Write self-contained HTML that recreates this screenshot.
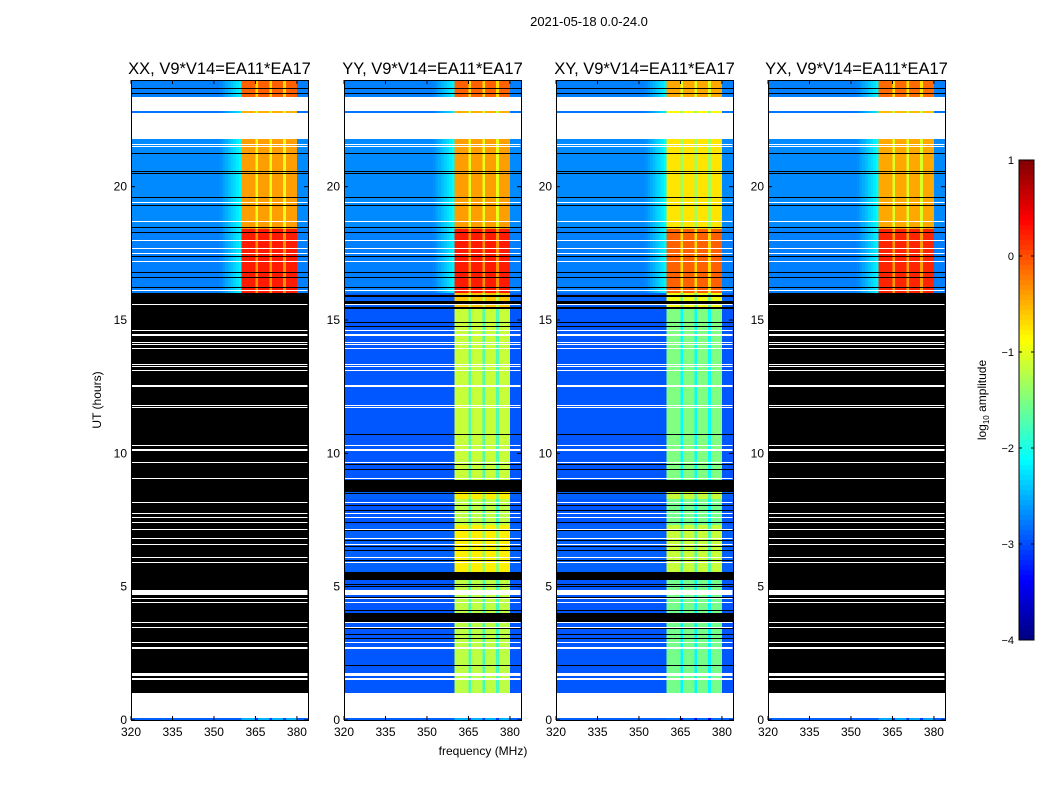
<!DOCTYPE html>
<html><head><meta charset="utf-8">
<style>
html,body{margin:0;padding:0;background:#fff;}
svg{display:block;font-family:"Liberation Sans",sans-serif;}
</style></head>
<body>
<svg id="fig" width="1050" height="800" viewBox="0 0 1050 800" xmlns="http://www.w3.org/2000/svg">
<rect width="1050" height="800" fill="#fff"/>
<text x="589" y="26" font-size="13" text-anchor="middle">2021-05-18 0.0-24.0</text>
<text x="483" y="755" font-size="12" text-anchor="middle">frequency (MHz)</text>
<text x="101" y="400" font-size="12" text-anchor="middle" transform="rotate(-90 101 400)">UT (hours)</text>
<g id="panels"></g>
<g id="cbar"></g>
</svg>
<script>
// ---- data ----
const panelTitles = ["XX, V9*V14=EA11*EA17","YY, V9*V14=EA11*EA17","XY, V9*V14=EA11*EA17","YX, V9*V14=EA11*EA17"];
const segStart = [0, 0.06, 1.0, 5.5, 7.3, 8.3, 9.0, 15.5, 16.0, 18.4, 21.8, 22.75, 22.82, 23.35];
const segEnd   = [0.06, 1.0, 5.5, 7.3, 8.3, 9.0, 15.5, 16.0, 18.4, 21.8, 22.75, 22.82, 23.35, 24];
const segBg    = [-2.9, null, -2.95, -2.9, -2.95, -2.9, -2.95, -2.9, -2.75, -2.7, null, -2.8, null, -2.75];
const segBand  = [-2.5, null, -1.2, -0.8, -1.2, -0.8, -1.15, -0.6, 0.25, -0.4, null, -0.5, null, -0.1];
const segFlaggedAuto = [0, 0, 1, 1, 1, 1, 1, 1, 0, 0, 0, 0, 0, 0]; // flagged in XX / YX
const panelFlagged = [true, false, false, true];
const panelBandOffset = [0, 0, -0.35, -0.05];
const whiteLines = [15.58,14.6,14.43,14.17,14.1,13.95,13.35,13.24,13.09,12.56,12.5,11.8,11.73,10.3,10.12,9.67,9.07,8.14,7.76,7.6,7.42,7.16,6.82,6.6,6.11,5.89,4.78,4.57,4.39,3.67,3.48,2.92,2.7,1.69,1.53,21.6,21.5,19.4,18.7,17.97,17.7,17.5,17.2,16.1];
const whiteWidths = [1,1,2,1,1,1,1,1,1,1,1,1,1,1,2,1,1,1,1,1,1,1,1,1,1,1,5,1,1,1,1,1,2,3,2,1,1,1,1,1,1,1,1,1];
const blackLines = [21.27,20.6,20.5,19.6,19.3,18.5,18.3,17.4,16.8,16.6,16.25,23.7,23.5];
const blackLinesMid = [15.9,15.65,15.45,14.9,14.75,10.7,9.6,9.4,8.77,8.5,8.06,7.87,7.42,7.12,6.75,6.5,6.37,6.0,5.4,5.1,5.0,4.6,4.1,3.85,3.45,3.2,3.05,2.06];
const blackWidthsMid = [2,3,2,1,1,1,1,1,12,1,1,1,1,1,1,1,1,1,8,1,1,1,1,9,1,1,1,1];
const freqBins = [];
for (let f = 320; f < 384; f += 1) freqBins.push(f);
const bandLo = 360.5, bandHi = 380.4;
const dividers = [365.5, 370.5, 375.5];
const cbTicks = [1, 0, -1, -2, -3, -4];
const xTicks = [320, 335, 350, 365, 380];
const yTicks = [0, 5, 10, 15, 20];

// ---- helpers ----
const NS = "http://www.w3.org/2000/svg";
const panelX = [131, 344, 556, 768], PW = 177, PT = 80, PH = 640;
const fMin = 320, fMax = 384, tMin = 0, tMax = 24, vMin = -4, vMax = 1;
function xs(p, f) { return panelX[p] + (f - fMin) / (fMax - fMin) * PW; }
function ys(t) { return PT + PH - (t - tMin) / (tMax - tMin) * PH; }
function jet(v) {
  let x = Math.max(0, Math.min(1, (v - vMin) / (vMax - vMin)));
  const c = t => Math.max(0, Math.min(1, t));
  const r = c(1.5 - Math.abs(4 * x - 3)), g = c(1.5 - Math.abs(4 * x - 2)), b = c(1.5 - Math.abs(4 * x - 1));
  return `rgb(${Math.round(r*255)},${Math.round(g*255)},${Math.round(b*255)})`;
}
function mk(tag, attrs, parent) { const e = document.createElementNS(NS, tag); for (const k in attrs) e.setAttribute(k, attrs[k]); parent.appendChild(e); return e; }
function profile(f, upper) {
  if (f >= bandLo && f < bandHi) {
    for (const d of dividers) if (f >= d - 0.5 && f < d + 0.5) return {band: true, off: -0.6};
    return {band: true, off: 0};
  }
  let off = 0;
  if (upper && f >= 352 && f < bandLo) off = (f - 352) / 8 * 0.6;
  return {band: false, off: off};
}

const root = document.getElementById('panels');
for (let p = 0; p < 4; p++) {
  const g = mk('g', {}, root);
  
  
  const cells = mk('g', {'shape-rendering': 'crispEdges'}, g);
  for (let s = 0; s < segStart.length; s++) {
    const y0 = Math.round(ys(segEnd[s])), y1 = Math.round(ys(segStart[s]));
    if (segBg[s] === null) continue;
    if (panelFlagged[p] && segFlaggedAuto[s]) {
      const r = mk('rect', {x: panelX[p], y: y0, width: PW, height: Math.max(1, y1 - y0), fill: '#000'}, cells);
      
      
      continue;
    }
    const upper = segStart[s] >= 16;
    for (const f of freqBins) {
      const pr = profile(f + 0.5, upper);
      const v = pr.band ? segBand[s] + panelBandOffset[p] + pr.off : segBg[s] + pr.off;
      const r = mk('rect', {x: xs(p, f).toFixed(2), y: y0, width: (xs(p, f + 1) - xs(p, f) + 0.3).toFixed(2), height: Math.max(1, y1 - y0), fill: jet(v)}, cells);
      
      
    }
  }
  whiteLines.forEach((t, i) => {
    const r = mk('rect', {x: panelX[p] + 0.5, y: Math.round(ys(t) - whiteWidths[i] / 2), width: PW - 1, height: whiteWidths[i], fill: '#fff'}, cells);
    
    
  });
  blackLines.forEach(t => {
    const r = mk('rect', {x: panelX[p], y: Math.round(ys(t)), width: PW, height: 1, fill: '#000'}, cells);
    
    
  });
  if (!panelFlagged[p]) blackLinesMid.forEach((t, i) => {
    const r = mk('rect', {x: panelX[p], y: Math.round(ys(t) - blackWidthsMid[i] / 2), width: PW, height: blackWidthsMid[i], fill: '#000'}, cells);
    
    
  });
  const frame = mk('rect', {x: panelX[p] + 0.5, y: PT + 0.5, width: PW, height: PH, fill: 'none', stroke: '#000', 'stroke-width': 1}, g);
  
  
  const title = mk('text', {x: panelX[p] + PW / 2, y: 74, 'font-size': 16.5, 'text-anchor': 'middle'}, g);
  title.textContent = panelTitles[p];
  
  
  xTicks.forEach(f => {
    const x = xs(p, f);
    mk('line', {x1: x, x2: x, y1: PT + PH, y2: PT + PH - 4, stroke: '#000'}, g);
    mk('line', {x1: x, x2: x, y1: PT, y2: PT + 4, stroke: '#000'}, g);
    const t = mk('text', {x: x, y: PT + PH + 16, 'font-size': 12, 'text-anchor': 'middle'}, g);
    t.textContent = f;
    
    
  });
  yTicks.forEach(h => {
    const y = ys(h);
    mk('line', {x1: panelX[p], x2: panelX[p] + 4, y1: y, y2: y, stroke: '#000'}, g);
    mk('line', {x1: panelX[p] + PW, x2: panelX[p] + PW - 4, y1: y, y2: y, stroke: '#000'}, g);
    const t = mk('text', {x: panelX[p] - 4, y: y + 4, 'font-size': 12, 'text-anchor': 'end'}, g);
    t.textContent = h;
    
    
  });
}

// colorbar
const cb = document.getElementById('cbar');
const cbX = 1019, cbW = 15, cbT = 160, cbH = 480;
const steps = 96;
for (let i = 0; i < steps; i++) {
  const v = vMax - (i + 0.5) / steps * (vMax - vMin);
  const r = mk('rect', {x: cbX, y: cbT + i * cbH / steps, width: cbW, height: cbH / steps + 0.5, fill: jet(v)}, cb);
  
  
}
mk('rect', {x: cbX, y: cbT, width: cbW, height: cbH, fill: 'none', stroke: '#000'}, cb);
cbTicks.forEach(v => {
  const y = cbT + (vMax - v) / (vMax - vMin) * cbH;
  mk('line', {x1: cbX, x2: cbX + 3, y1: y, y2: y, stroke: '#000'}, cb);
  mk('line', {x1: cbX + cbW, x2: cbX + cbW - 3, y1: y, y2: y, stroke: '#000'}, cb);
  const t = mk('text', {x: cbX - 5, y: y + 4, 'font-size': 11, 'text-anchor': 'end'}, cb);
  t.textContent = v < 0 ? '\u2212' + (-v) : String(v);
  
  
});
const cl = mk('text', {x: 986, y: 400, 'font-size': 12, 'text-anchor': 'middle', transform: 'rotate(-90 986 400)'}, cb);
cl.innerHTML = 'log<tspan font-size="8" dy="3">10</tspan><tspan dy="-3"> amplitude</tspan>';


</script>
</body></html>
